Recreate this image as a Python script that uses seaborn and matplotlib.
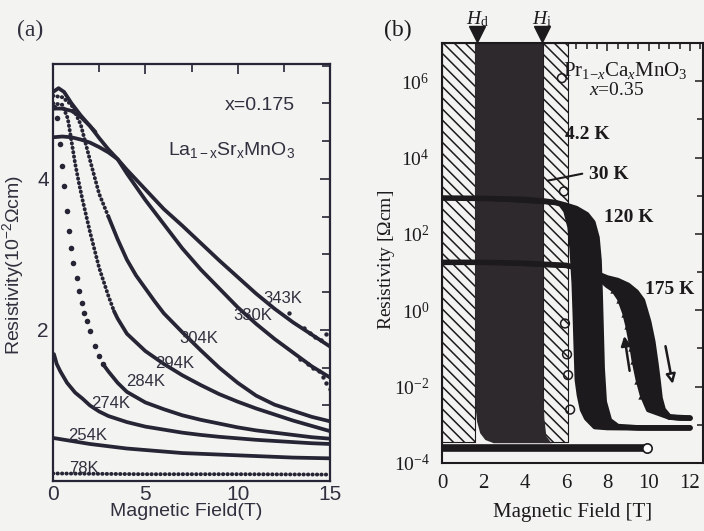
import matplotlib
matplotlib.use("Agg")
import matplotlib.pyplot as plt
import matplotlib.transforms as mtrans
from matplotlib.ticker import FixedLocator, FixedFormatter, NullFormatter
import numpy as np
import pandas as pd
import seaborn as sns

# ---------------- panel (a): La1-xSrxMnO3 x=0.175, rho in 10^-2 Ohm cm ----------------
field_343 = [0, 0.5, 1, 1.5, 2, 2.5, 3, 3.5, 4, 5, 6, 7, 8, 9, 10, 11, 12, 13, 14, 15]
rho_343 = [4.55, 4.56, 4.55, 4.52, 4.48, 4.42, 4.35, 4.26, 4.12, 3.86, 3.6, 3.38, 3.15, 2.92, 2.7, 2.48, 2.28, 2.1, 1.94, 1.78]

field_330 = [0, 0.3, 0.6, 1, 1.5, 2, 2.5, 3, 3.5, 4, 5, 6, 7, 8, 9, 10, 11, 12, 13, 14, 15]
rho_330 = [5.15, 5.2, 5.15, 5.0, 4.84, 4.7, 4.54, 4.39, 4.26, 4.07, 3.72, 3.4, 3.08, 2.8, 2.55, 2.3, 2.08, 1.88, 1.7, 1.52, 1.37]

field_extra = [0, 0.5, 1, 1.5, 2, 2.3]
rho_extra = [4.93, 4.93, 4.9, 4.82, 4.7, 4.62]

field_304_dot = [0, 0.5, 1, 1.5, 2, 2.5, 3]
rho_304_dot = [5.1, 5.08, 4.98, 4.72, 4.25, 3.8, 3.5]
field_304 = [3, 3.5, 4, 4.5, 5, 5.5, 6, 7, 8, 9, 10, 11, 12, 13, 14, 15]
rho_304 = [3.5, 3.2, 2.93, 2.72, 2.55, 2.38, 2.22, 1.97, 1.73, 1.5, 1.3, 1.13, 1.01, 0.93, 0.85, 0.79]

field_294_dot = [0, 0.5, 0.8, 1, 1.2, 1.4, 1.6, 2, 2.5, 3, 3.3]
rho_294_dot = [5.0, 4.98, 4.8, 4.5, 4.2, 3.95, 3.72, 3.3, 2.82, 2.45, 2.25]
field_294 = [3.3, 3.5, 4, 5, 6, 7, 8, 9, 10, 11, 12, 13, 14, 15]
rho_294 = [2.25, 2.15, 1.95, 1.72, 1.55, 1.4, 1.27, 1.15, 1.05, 0.96, 0.88, 0.8, 0.73, 0.66]

field_284_dot = [0.05, 0.2, 0.38, 0.5, 0.6, 0.76, 0.87, 0.97, 1.08, 1.3, 1.41, 1.57, 1.68, 1.84, 2.0, 2.27, 2.5, 2.7]
rho_284_dot = [4.95, 4.8, 4.46, 4.17, 3.9, 3.58, 3.31, 3.09, 2.89, 2.69, 2.52, 2.36, 2.23, 2.12, 1.98, 1.79, 1.66, 1.55]
field_284 = [2.7, 3, 3.5, 4, 5, 6, 7, 8, 9, 10, 11, 12, 13, 14, 15]
rho_284 = [1.55, 1.45, 1.3, 1.18, 1.04, 0.95, 0.87, 0.81, 0.76, 0.71, 0.67, 0.64, 0.61, 0.58, 0.56]

field_274 = [0.05, 0.2, 0.4, 0.76, 1.2, 1.6, 2, 2.5, 3, 4, 5, 6, 7, 8, 9, 10, 11, 12, 13, 14, 15]
rho_274 = [1.68, 1.55, 1.45, 1.3, 1.17, 1.09, 1.0, 0.92, 0.86, 0.78, 0.72, 0.68, 0.64, 0.61, 0.585, 0.565, 0.545, 0.53, 0.515, 0.5, 0.49]

field_254 = [0, 1, 2, 3, 4, 5, 6, 7, 8, 9, 10, 11, 12, 13, 14, 15]
rho_254 = [0.57, 0.53, 0.49, 0.46, 0.43, 0.41, 0.39, 0.37, 0.36, 0.35, 0.34, 0.33, 0.32, 0.31, 0.305, 0.3]

field_78 = [0, 5, 10, 15]
rho_78 = [0.1, 0.09, 0.09, 0.085]

noise_field = [12.8, 13.6, 13.9, 14.2, 14.5, 14.8, 13.4, 13.8, 14.1, 14.4, 14.6, 14.8, 15.0]
noise_rho = [2.22, 2.02, 1.96, 1.9, 1.86, 1.95, 1.62, 1.55, 1.5, 1.45, 1.38, 1.3, 1.22]

labels_a = ["343K", "330K", "304K", "294K", "284K", "274K", "254K", "78K"]
label_a_field = [12.45, 10.8, 7.9, 6.6, 5.0, 3.1, 1.9, 1.65]
label_a_rho = [2.42, 2.19, 1.89, 1.56, 1.32, 1.03, 0.6, 0.17]

xticks_a = [0, 5, 10, 15]
yticks_a = [2, 4]

# ---------------- panel (b): Pr1-xCaxMnO3 x=0.35, rho in Ohm cm ----------------
hatch_left_field = [0, 1.6]
hatch_right_field = [4.9, 6.1]
hatch_rho = [3.5e-4, 1e7]

dark_edge_field = [1.6, 1.6, 1.62, 1.7, 1.85, 2.1, 2.5, 5.3, 5.05, 4.95, 4.9, 4.9]
dark_edge_rho = [1e7, 1e-2, 3e-3, 1.2e-3, 6e-4, 4e-4, 3.3e-4, 3.3e-4, 5e-4, 1.5e-3, 1e-2, 1e7]

field_42_low = [0, 9.9]
rho_42_low = [2.5e-4, 2.5e-4]
open42_field = [5.8, 5.9, 5.95, 6.05, 6.1, 6.2]
open42_rho = [1.2e6, 1.3e3, 0.45, 0.07, 0.02, 2.5e-3]

field_120_up = [0, 2, 4, 5, 5.5, 6, 6.5, 7, 7.3, 7.5, 7.6, 7.65, 7.7, 7.75, 7.85, 8.1, 8.5, 9.5, 10.5, 11.5, 12]
rho_120_up = [870, 850, 800, 720, 660, 560, 460, 320, 200, 80, 20, 3, 0.3, 0.03, 0.004, 1.3e-3, 9e-4, 8.3e-4, 8.3e-4, 8.3e-4, 8.3e-4]
field_120_down = [12, 10, 8, 7.4, 7.0, 6.8, 6.65, 6.55, 6.5, 6.45, 6.4, 6.3, 6.2, 6.0, 5.8]
rho_120_down = [8.3e-4, 8.3e-4, 8.5e-4, 9e-4, 1.5e-3, 2.5e-3, 6e-3, 1.5e-2, 0.1, 0.8, 5, 40, 150, 400, 560]

field_175_up = [0, 2, 4, 6, 6.8, 7.5, 8, 8.5, 9, 9.4, 9.7, 10, 10.2, 10.35, 10.45, 10.55, 10.7, 11, 11.5, 12]
rho_175_up = [18, 18, 17, 15, 12, 9, 7, 6, 4.5, 3, 1.8, 0.5, 0.15, 0.04, 0.015, 5e-3, 2.5e-3, 1.6e-3, 1.5e-3, 1.5e-3]
field_175_down = [12, 11, 10.5, 10.0, 9.7, 9.5, 9.3, 9.2, 9.0, 8.85, 8.6, 8.3, 8.0, 7.5, 7.0]
rho_175_down = [1.5e-3, 1.6e-3, 2e-3, 2.5e-3, 6e-3, 0.015, 0.05, 0.11, 0.4, 0.85, 2, 3.5, 4.5, 8, 12]

hd_field = 1.7
hi_field = 4.85
xticks_b = [0, 2, 4, 6, 8, 10, 12]
yticks_b = [1e-4, 1e-2, 1e0, 1e2, 1e4, 1e6]
ytick_labels_b = [r"$10^{-4}$", r"$10^{-2}$", r"$10^{0}$", r"$10^{2}$", r"$10^{4}$", r"$10^{6}$"]

# ---------------- style ----------------
sns.set_theme(style="white")
BG = "#f3f3f1"
INK = "#252535"
TXT = "#30303f"
INKB = "#1c1a1c"
DARK = "#2e292c"
plt.rcParams.update({
    "font.family": ["Liberation Sans", "DejaVu Sans"],
    "mathtext.fontset": "custom",
    "mathtext.rm": "Liberation Serif",
    "mathtext.it": "Liberation Serif:italic",
    "mathtext.bf": "Liberation Serif:bold",
    "mathtext.sf": "Liberation Sans",
    "hatch.linewidth": 1.1,
    "axes.facecolor": BG,
    "figure.facecolor": BG,
    "savefig.facecolor": BG,
})

fig = plt.figure(figsize=(7.04, 5.31), dpi=100)
axA = fig.add_axes([53 / 704, 50 / 531, 277 / 704, 417 / 531])
axB = fig.add_axes([442 / 704, 68 / 531, 261 / 704, 420 / 531])


def line(ax, x, y, color=INK, lw=2.7, **kw):
    sns.lineplot(x=x, y=y, ax=ax, color=color, linewidth=lw, sort=False,
                 estimator=None, legend=False, **kw)


# ---- panel (a) ----
line(axA, field_343, rho_343)
line(axA, field_330, rho_330)
line(axA, field_extra, rho_extra)
dot_kw = dict(linestyle=(0, (0.1, 1.05)), dash_capstyle="round")
line(axA, field_304_dot, rho_304_dot, lw=2.8, **dot_kw)
line(axA, field_304, rho_304)
line(axA, field_294_dot, rho_294_dot, lw=2.8, **dot_kw)
line(axA, field_294, rho_294)
sns.scatterplot(x=field_284_dot, y=rho_284_dot, ax=axA, color=INK, s=16, linewidth=0, legend=False)
line(axA, field_284, rho_284)
line(axA, field_274, rho_274)
line(axA, field_254, rho_254)
line(axA, field_78, rho_78, lw=2.8, **dot_kw)
sns.scatterplot(x=noise_field, y=noise_rho, ax=axA, color=INK, s=10, linewidth=0, legend=False)

for lab, fx, fy in zip(labels_a, label_a_field, label_a_rho):
    axA.text(fx, fy, lab, ha="center", va="center", fontsize=12, color=TXT)

axA.text(13.1, 4.97, "x=0.175", ha="right", va="center", fontsize=14, color=TXT)
axA.text(13.1, 4.38, r"La$\mathsf{_{1-x}}$Sr$\mathsf{_x}$MnO$\mathsf{_3}$", ha="right",
         va="center", fontsize=14, color=TXT)

axA.set_xlim(0, 15)
axA.set_ylim(0, 5.52)
axA.xaxis.set_major_locator(FixedLocator(xticks_a))
axA.xaxis.set_minor_locator(FixedLocator(np.arange(0, 15.01, 2.5)))
axA.yaxis.set_major_locator(FixedLocator(yticks_a))
axA.yaxis.set_minor_locator(FixedLocator(np.arange(0, 5.6, 0.5)))
axA.set_xticklabels([str(v) for v in xticks_a])
axA.set_yticklabels([str(v) for v in yticks_a])
axA.tick_params(which="both", direction="in", top=True, right=True, colors=INK,
                labelcolor=TXT, labelsize=15, width=1.2)
axA.tick_params(which="major", length=7, pad=3)
axA.tick_params(which="minor", length=6)
axA.set_xlabel("Magnetic Field(T)", fontsize=14, color=TXT)
axA.set_ylabel(r"Resistivity(10$\mathsf{^{-2}\Omega}$cm)", fontsize=14, color=TXT)
axA.xaxis.set_label_coords(0.48, -0.053)
axA.yaxis.set_label_coords(-0.0975, 0.518)
for s in axA.spines.values():
    s.set_color(INK)
    s.set_linewidth(1.6)
fig.text(30 / 704, 1 - 30 / 531, "(a)", fontsize=17, family="Liberation Serif",
         ha="center", va="center", color=TXT)

# ---- panel (b) ----
axB.set_yscale("log")
axB.set_xlim(0, 12.63)
axB.set_ylim(1e-4, 1e7)
hatch = "\\\\\\"
axB.fill_betweenx(hatch_rho, hatch_left_field[0], hatch_left_field[1], facecolor=BG,
                  edgecolor=INKB, hatch=hatch, linewidth=0.8, zorder=1)
axB.fill_betweenx(hatch_rho, hatch_right_field[0], hatch_right_field[1], facecolor=BG,
                  edgecolor=INKB, hatch=hatch, linewidth=0.8, zorder=1)
axB.fill(dark_edge_field, dark_edge_rho, color=DARK, zorder=2, linewidth=0)

axB.fill(field_120_up + field_120_down, rho_120_up + rho_120_down, color=INKB, zorder=3, linewidth=0)
axB.fill(field_175_up + field_175_down, rho_175_up + rho_175_down, color=INKB, zorder=3, linewidth=0)
for fx, ry in [(field_120_up, rho_120_up), (field_120_down, rho_120_down),
               (field_175_up, rho_175_up), (field_175_down, rho_175_down)]:
    line(axB, fx, ry, color=INKB, lw=4, zorder=4)
line(axB, field_42_low, rho_42_low, color=INKB, lw=5.5, zorder=4)
sns.scatterplot(x=[field_42_low[1]], y=[rho_42_low[1]], ax=axB, s=45, facecolor="white",
                edgecolor=INKB, linewidth=1.2, zorder=6, legend=False)
sns.scatterplot(x=open42_field, y=open42_rho, ax=axB, s=40, facecolor="none",
                edgecolor=INKB, linewidth=1.1, zorder=6, legend=False)
sns.scatterplot(x=field_175_down[4:12], y=rho_175_down[4:12], ax=axB, marker="^", s=36,
                color=INKB, linewidth=0, zorder=6, legend=False)

axB.annotate("", xy=(8.8, 0.25), xytext=(9.1, 0.022),
             arrowprops=dict(arrowstyle="-|>", lw=1.8, color=INKB, mutation_scale=14), zorder=7)
axB.annotate("", xy=(11.19, 0.01), xytext=(10.79, 0.135),
             arrowprops=dict(arrowstyle="-|>", lw=1.8, color=INKB, fc="white", mutation_scale=14), zorder=7)
axB.annotate("", xy=(4.98, 2.4e3), xytext=(6.92, 3.9e3),
             arrowprops=dict(arrowstyle="-", lw=1.5, color=INKB), zorder=7)

serif = "Liberation Serif"
axB.text(5.85, 1.95e6, r"$\mathrm{Pr}_{1\mathrm{-}x}\mathrm{Ca}_{x}\mathrm{MnO}_{3}$", fontsize=15,
         ha="left", va="center", color=INKB, zorder=8)
axB.text(7.1, 5.8e5, r"$x$=0.35", fontsize=14, family=serif, ha="left", va="center", color=INKB)
for lab, fx, ry in [("4.2 K", 5.95, 3.9e4), ("30 K", 7.1, 3.5e3), ("120 K", 7.84, 275),
                    ("175 K", 9.82, 3.6)]:
    axB.text(fx, ry, lab, fontsize=14, family=serif, ha="left", va="center", color=INKB,
             weight="bold")

blend = mtrans.blended_transform_factory(axB.transData, axB.transAxes)
for hx, lab in [(hd_field, r"$H_\mathrm{d}$"), (hi_field, r"$H_\mathrm{i}$")]:
    axB.plot([hx], [1.021], marker="v", ms=12, color=INKB, transform=blend, clip_on=False, zorder=9)
    axB.text(hx, 1.057, lab, transform=blend, ha="center", va="center", fontsize=14, color=INKB)

axB.xaxis.set_major_locator(FixedLocator(xticks_b))
axB.xaxis.set_minor_locator(FixedLocator(np.arange(0, 12.6, 0.5)))
axB.xaxis.set_minor_formatter(NullFormatter())
axB.set_xticklabels([str(v) for v in xticks_b])
axB.yaxis.set_major_locator(FixedLocator(yticks_b))
axB.yaxis.set_major_formatter(FixedFormatter(ytick_labels_b))
axB.yaxis.set_minor_locator(FixedLocator([1e-3, 1e-1, 1e1, 1e3, 1e5]))
axB.yaxis.set_minor_formatter(NullFormatter())
axB.tick_params(which="both", direction="in", top=True, right=True, colors=INKB, width=1.1)
axB.tick_params(which="major", length=6)
axB.tick_params(which="minor", length=4)
axB.tick_params(axis="x", which="major", labelsize=15, pad=8)
axB.tick_params(axis="y", which="major", labelsize=14, pad=9)
for t in axB.get_xticklabels():
    t.set_family(serif)
axB.set_xlabel("Magnetic Field [T]", fontsize=15, family=serif, color=INKB)
axB.set_ylabel(r"Resistivity [$\Omega$cm]", fontsize=14, family=serif, color=INKB)
axB.xaxis.set_label_coords(0.502, -0.095)
axB.yaxis.set_label_coords(-0.172, 0.483)
for s in axB.spines.values():
    s.set_color(INKB)
    s.set_linewidth(1.5)
fig.text(398 / 704, 1 - 30 / 531, "(b)", fontsize=17, family=serif, ha="center", va="center",
         color=INKB)

fig.savefig("out.png", dpi=100)
